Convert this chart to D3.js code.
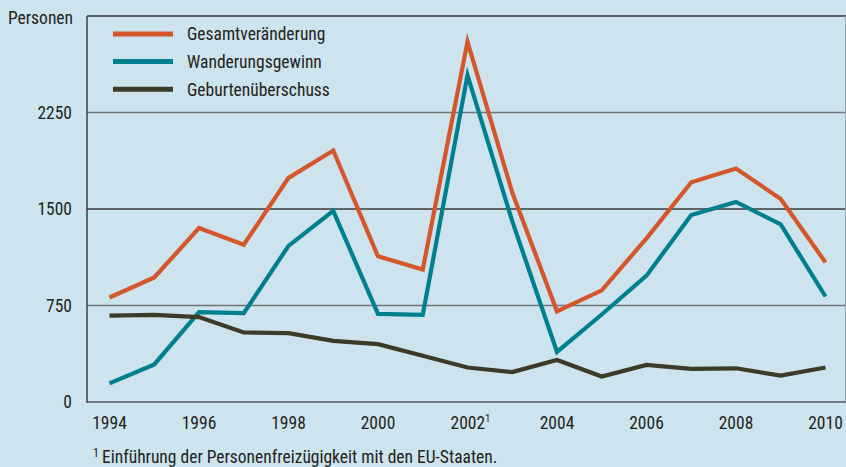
<!DOCTYPE html>
<html>
<head>
<meta charset="utf-8">
<script src="https://cdn.jsdelivr.net/npm/d3@7"></script>
<style>
html,body{margin:0;padding:0;background:#cde4ee;}
svg{display:block;}
text{font-family:"Liberation Sans Narrow","Arial Narrow","Roboto Condensed","Liberation Sans",sans-serif;fill:#231f20;}
</style>
</head>
<body>
<svg id="chart" width="846" height="467"></svg>
<script>
const years = [1994,1995,1996,1997,1998,1999,2000,2001,2002,2003,2004,2005,2006,2007,2008,2009,2010];
const gesamt = [812,968,1352,1222,1742,1955,1132,1030,2800,1628,705,868,1272,1708,1815,1578,1085];
const wanderung = [145,292,698,690,1213,1485,685,677,2540,1405,390,680,982,1453,1555,1380,820];
const geburten = [672,677,660,540,535,475,450,360,268,232,327,198,288,258,262,205,268];
const yTicks = [0,750,1500,2250];
const xTickYears = [1994,1996,1998,2000,2002,2004,2006,2008,2010];
const seriesNames = ["Gesamtveränderung","Wanderungsgewinn","Geburtenüberschuss"];
const seriesColors = ["#d4572c","#00808e","#3b3b27"];

(function(){
const svg = d3.select("#chart");
const W = 846, H = 467;
const pL = 87, pR = 846, pT = 16, pB = 402;
const fs = 17.5;

svg.append("rect").attr("width",W).attr("height",H).attr("fill","#cde4ee");

const x = d3.scaleLinear().domain([1994,2010]).range([109.5,825.5]);
const y = d3.scaleLinear().domain([0,3000]).range([pB,pT]);

svg.append("g").selectAll("line").data(yTicks.filter(d=>d>0)).join("line")
  .attr("x1",pL).attr("x2",pR).attr("y1",d=>y(d)).attr("y2",d=>y(d))
  .attr("stroke",d=>d===1500?"#3a3a3a":"#6f7478").attr("stroke-width",1.4);

svg.append("line").attr("x1",pL).attr("x2",pR).attr("y1",pT).attr("y2",pT)
  .attr("stroke","#333").attr("stroke-width",1.6);
svg.append("line").attr("x1",845.5).attr("x2",845.5).attr("y1",pT).attr("y2",pB)
  .attr("stroke","#9aa3a8").attr("stroke-width",1);
svg.append("line").attr("x1",pL).attr("x2",pR).attr("y1",pB).attr("y2",pB)
  .attr("stroke","#555a5e").attr("stroke-width",1.6);
svg.append("line").attr("x1",pL).attr("x2",pL).attr("y1",pT).attr("y2",pB+0.8)
  .attr("stroke","#333").attr("stroke-width",1.4);

svg.append("g").selectAll("text").data(yTicks).join("text")
  .attr("x",72).attr("y",d=>y(d)+6.3).attr("text-anchor","end")
  .attr("font-size",fs).text(d=>d);

svg.append("text").attr("x",8).attr("y",23.5).attr("font-size",fs).text("Personen");

const xl = svg.append("g").selectAll("text").data(xTickYears).join("text")
  .attr("x",d=>x(d)).attr("y",429).attr("text-anchor","middle").attr("font-size",fs);
xl.each(function(d){
  const t = d3.select(this);
  if(d===2002){
    t.attr("x",x(d)+3);
    t.append("tspan").text(d);
    t.append("tspan").attr("font-size",11).attr("dy",-7).text("1");
  } else t.text(d);
});

const line = d3.line().x((d,i)=>x(years[i])).y(d=>y(d));
const data = [gesamt,wanderung,geburten];
svg.append("g").selectAll("path").data(data).join("path")
  .attr("d",line).attr("fill","none")
  .attr("stroke",(d,i)=>seriesColors[i]).attr("stroke-width",4.2)
  .attr("stroke-linejoin","miter").attr("stroke-miterlimit",10);

const lg = svg.append("g");
seriesNames.forEach((n,i)=>{
  const yy = 34 + i*27.6;
  lg.append("line").attr("x1",113).attr("x2",173).attr("y1",yy).attr("y2",yy)
    .attr("stroke",seriesColors[i]).attr("stroke-width",5);
  lg.append("text").attr("x",187).attr("y",yy+6.3).attr("font-size",fs).text(n);
});

const fn = svg.append("text").attr("x",93).attr("y",463).attr("font-size",fs);
fn.append("tspan").attr("font-size",12).attr("dy",-6).text("1");
fn.append("tspan").attr("dy",6).attr("dx",3).text("Einführung der Personenfreizügigkeit mit den EU-Staaten.");
})();
</script>
</body>
</html>
